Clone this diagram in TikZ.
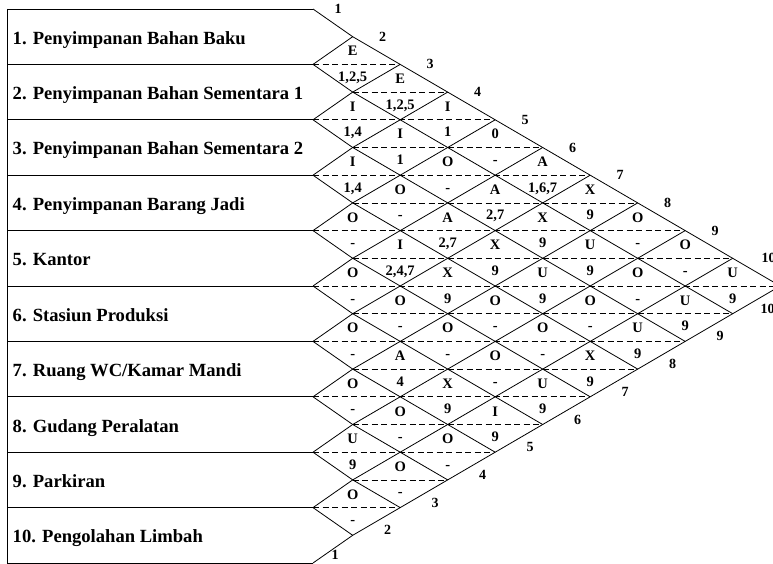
\documentclass[tikz,border=0pt]{standalone}
\usepackage{fontspec}
\setmainfont{Liberation Serif}
\begin{document}
\begin{tikzpicture}[x=1pt,y=-1pt,
  declare function={
    colx(\m)=(\m<0.5)*313+(\m>0.5)*(305.2+47.5*\m);
    levy(\l)=9+27.7*\l;
  },
  grid/.style={line width=0.8pt, line join=miter},
  sep/.style={line width=0.8pt, dash pattern=on 6pt off 3.5pt},
  dept/.style={anchor=base west, inner sep=0pt,
    font=\fontsize{18.6}{20}\selectfont\bfseries},
  rel/.style={anchor=base, inner sep=0pt,
    font=\fontsize{14.5}{16}\selectfont\bfseries},
  idx/.style={inner sep=0pt,
    font=\fontsize{14}{16}\selectfont\bfseries}]
\useasboundingbox (0,0) rectangle (773,564);

% department boxes: left edge and row separators
\draw[grid] (7,{levy(0)}) -- (7,{levy(20)});
\foreach \k in {0,...,10}
  \draw[grid] (7,{levy(2*\k)}) -- ({colx(0)},{levy(2*\k)});

% diagonal lattice of the relationship chart
\foreach \k in {0,...,9}
  \draw[grid] ({colx(0)},{levy(2*\k)}) -- ({colx(1)},{levy(2*\k+1)})
    -- ({colx(10-\k)},{levy(10+\k)});
\foreach \k in {1,...,10}
  \draw[grid] ({colx(0)},{levy(2*\k)}) -- ({colx(1)},{levy(2*\k-1)})
    -- ({colx(\k)},{levy(\k)});

% dashed middle line of every diamond
\foreach \L in {2,...,18} {
  \pgfmathtruncatemacro\a{mod(\L,2)}
  \pgfmathtruncatemacro\b{min(\L,20-\L)}
  \draw[sep] ({colx(\a)},{levy(\L)}) -- ({colx(\b)},{levy(\L)});
}

% department names
\foreach \i/\t in {
  1/{1. Penyimpanan Bahan Baku},
  2/{2. Penyimpanan Bahan Sementara 1},
  3/{3. Penyimpanan Bahan Sementara 2},
  4/{4. Penyimpanan Barang Jadi},
  5/{5. Kantor},
  6/{6. Stasiun Produksi},
  7/{7. Ruang WC/Kamar Mandi},
  8/{8. Gudang Peralatan},
  9/{9. Parkiran},
  10/{10. Pengolahan Limbah}}
  \node[dept] (dept\i) at (12.5,{levy(2*\i-1)+7.5}) {\t};

% relationship degree (upper half) and reasons (lower half)
\foreach \i/\j/\r/\n in {
  1/2/E/{1,2,5}, 1/3/E/{1,2,5}, 1/4/I/1, 1/5/0/-, 1/6/A/{1,6,7},
  1/7/X/9, 1/8/O/-, 1/9/O/-, 1/10/U/9,
  2/3/I/{1,4}, 2/4/I/1, 2/5/O/-, 2/6/A/{2,7}, 2/7/X/9, 2/8/U/9,
  2/9/O/-, 2/10/U/9,
  3/4/I/{1,4}, 3/5/O/-, 3/6/A/{2,7}, 3/7/X/9, 3/8/U/9, 3/9/O/-,
  3/10/U/9,
  4/5/O/-, 4/6/I/{2,4,7}, 4/7/X/9, 4/8/O/-, 4/9/O/-, 4/10/X/9,
  5/6/O/-, 5/7/O/-, 5/8/O/-, 5/9/O/-, 5/10/U/9,
  6/7/O/-, 6/8/A/4, 6/9/X/9, 6/10/I/9,
  7/8/O/-, 7/9/O/-, 7/10/O/-,
  8/9/U/9, 8/10/O/-,
  9/10/O/-} {
  \pgfmathtruncatemacro\c{\j-\i}
  \pgfmathtruncatemacro\L{\i+\j-1}
  \node[rel] (deg-\i-\j) at ({colx(\c)},{levy(\L)-8.5}) {\r};
  \node[rel] (why-\i-\j) at ({colx(\c)},{levy(\L)+17}) {\n};
}

% department numbers along the two outer edges
\foreach \k in {1,...,10} {
  \pgfmathtruncatemacro\m{\k-1}
  \node[idx] (top\k) at ({colx(\m)+30-5*(\m<0.5)+6*(\k>9)},{levy(\m)}) {\k};
  \node[idx] (bot\k) at ({colx(\m)+35-13*(\m<0.5)},{levy(21-\k)-5-3*(\m<0.5)}) {\k};
}
\end{tikzpicture}
\end{document}
